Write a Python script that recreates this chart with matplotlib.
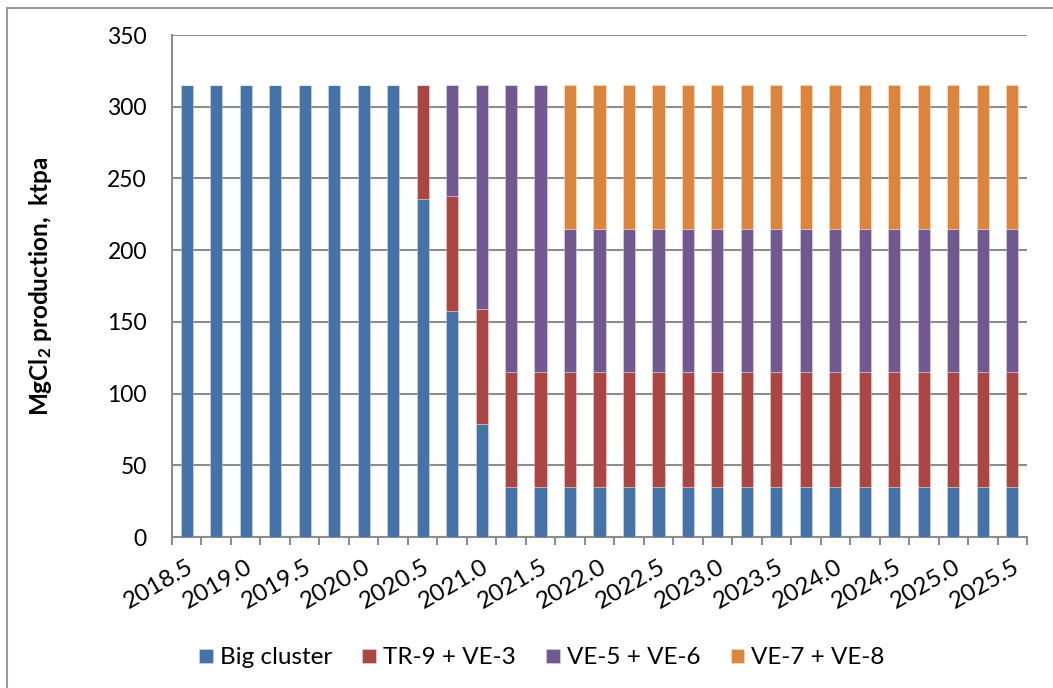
import matplotlib
matplotlib.use("Agg")
import matplotlib.pyplot as plt
from matplotlib.patches import Rectangle
import numpy as np

plt.rcParams['font.family'] = ['Lato', 'DejaVu Sans']
plt.rcParams['mathtext.default'] = 'regular'

# Quarterly periods 2018.5 .. 2025.5
periods = [2018.5 + 0.25 * i for i in range(29)]
tick_labels = [f"{p:.1f}" for p in periods[::2]]

big_cluster = [315, 315, 315, 315, 315, 315, 315, 315, 236, 157.5, 79] + [35] * 18
tr9_ve3 = [0] * 8 + [79, 80, 80] + [80] * 18
ve5_ve6 = [0] * 9 + [77.5, 156, 200, 200] + [100] * 16
ve7_ve8 = [0] * 13 + [100] * 16

series = [
    ("Big cluster", big_cluster, "#4572A7"),
    ("TR-9 + VE-3", tr9_ve3, "#AA4643"),
    ("VE-5 + VE-6", ve5_ve6, "#71588F"),
    ("VE-7 + VE-8", ve7_ve8, "#DB843D"),
]

fig = plt.figure(figsize=(10.53, 6.88), dpi=100)
ax = fig.add_axes([172 / 1053, 1 - 537 / 688, (1027 - 172) / 1053, (537 - 35) / 688])

x = np.arange(len(periods))
bottom = np.zeros(len(periods))
for name, vals, col in series:
    vals = np.array(vals, dtype=float)
    ax.bar(x, vals, width=0.41, bottom=bottom, color=col, label=name,
           edgecolor=(1, 1, 1, 0.35), linewidth=0.6, zorder=3)
    bottom += vals

grid_col = "#8c8c8c"
ax.set_xlim(-0.5, len(periods) - 0.5)
ax.set_ylim(0, 350)
ax.set_yticks(np.arange(0, 351, 50))
ax.yaxis.grid(True, color=grid_col, linewidth=1.5, zorder=0)
ax.tick_params(axis='y', length=0, pad=18, labelsize=16.5, colors='black')

# category boundaries carry the tick marks, labels sit on every other bar
ax.set_xticks(np.arange(-0.5, len(periods), 1.0))
ax.set_xticklabels([])
ax.tick_params(axis='x', which='major', direction='out', length=6, width=1.5, color=grid_col)
ax.set_xticks(x[::2], minor=True)
ax.set_xticklabels(tick_labels, minor=True, rotation=30, ha='right', va='top',
                   rotation_mode='anchor', fontsize=17.5)
ax.tick_params(axis='x', which='minor', length=0, pad=14)

for side in ['top', 'right']:
    ax.spines[side].set_visible(False)
for side in ['left', 'bottom']:
    ax.spines[side].set_color(grid_col)
    ax.spines[side].set_linewidth(1.5)

ax.set_ylabel("MgCl$_2$ production,  ktpa", fontsize=17.5, fontweight='bold', labelpad=0)
ax.yaxis.set_label_coords(-(172 - 54) / 855, 0.5)

ax.legend(loc='center', bbox_to_anchor=(542 / 1053, 1 - 658 / 688),
          bbox_transform=fig.transFigure, ncol=4, frameon=False, fontsize=17.5,
          handlelength=0.55, handleheight=0.55, handletextpad=0.3, columnspacing=1.25)

# chart-area frame
fig.patches.append(Rectangle((7 / 1053, -0.1), 1.2, 1 - 8 / 688 + 0.1,
                             transform=fig.transFigure, fill=False,
                             edgecolor="#9a9a9a", linewidth=1.5))

fig.savefig("out.png", dpi=100)
